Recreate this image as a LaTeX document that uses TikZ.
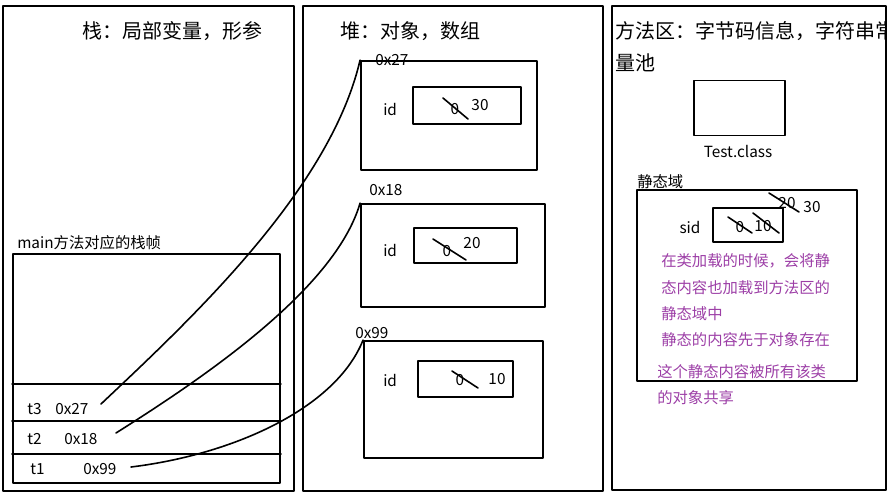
\documentclass[tikz,border=0pt]{standalone}
\usepackage{fontspec}
\setmainfont{Noto Sans CJK SC}
\usetikzlibrary{positioning}
\definecolor{notepurple}{RGB}{156,62,166}
\def\px{0.75pt}

\begin{document}
\begin{tikzpicture}[x=0.75pt, y=-0.75pt, line join=round, line cap=round]
\tikzset{
  panel/.style={line width=1.6pt, black},
  box/.style={draw, line width=1.4pt, inner sep=0pt},
  rowline/.style={line width=1.2pt},
  link/.style={line width=1.2pt},
  strike/.style={line width=1.2pt},
  head/.style={font=\fontsize{15}{18}\selectfont, inner sep=0pt, anchor=west},
  lbl/.style={font=\fontsize{11.5}{14}\selectfont, inner sep=0pt},
  note/.style={lbl, anchor=west, text=notepurple}
}
\useasboundingbox (0,0) rectangle (890,494);

% The three memory areas
\draw[panel] (3,6) rectangle (294,491);
\draw[panel] (303,6) rectangle (603,491);
\draw[panel] (612,6) rectangle (886,490);

\node[head] (stackhead) at (82,31) {栈：局部变量，形参};
\node[head] (heaphead) at (340,31) {堆：对象，数组};
\begin{scope}
\clip (612,6) rectangle (886,490);
\node[head] (methodhead) at (615,31) {方法区：字节码信息，字符串常};
\end{scope}
\node[head] (methodhead2) at (615,63) {量池};

% Stack frame of main
\node[lbl, anchor=west] (framelbl) at (17,243) {main方法对应的栈帧};
\node[box, minimum width=267*\px, minimum height=229*\px] (frame) at (146.5,368.5) {};
\draw[rowline] (frame.west |- 0,384) -- (frame.east |- 0,384);
\draw[box] (frame.west |- 0,421) -- (frame.east |- 0,421);
\draw[box] (frame.west |- 0,454) -- (frame.east |- 0,454);

\node[lbl, anchor=west] (t3) at (27,409) {t3};
\node[lbl, anchor=west] (t3addr) at (55,409) {0x27};
\node[lbl, anchor=west] (t2) at (27,439) {t2};
\node[lbl, anchor=west] (t2addr) at (64,439) {0x18};
\node[lbl, anchor=west] (t1) at (30,469) {t1};
\node[lbl, anchor=west] (t1addr) at (83,469) {0x99};

% Objects on the heap
\node[box, minimum width=176*\px, minimum height=109*\px] (obj1) at (449,115.5) {};
\node[lbl, anchor=west] (obj1addr) at (375,60) {0x27};
\node[lbl, anchor=west] (obj1id) at (383,109) {id};
\node[box, minimum width=108*\px, minimum height=37*\px] (obj1val) at (467,105.5) {};
\node[lbl] (obj1old) at (455,109) {0};
\node[lbl] (obj1new) at (480,105) {30};
\draw[strike] (443,98) -- (468,119);

\node[box, minimum width=184*\px, minimum height=103*\px] (obj2) at (453,255.5) {};
\node[lbl, anchor=west] (obj2addr) at (369,190) {0x18};
\node[lbl, anchor=west] (obj2id) at (383,250) {id};
\node[box, minimum width=103*\px, minimum height=35*\px] (obj2val) at (465.5,245.5) {};
\node[lbl] (obj2old) at (447,251) {0};
\node[lbl] (obj2new) at (472,243) {20};
\draw[strike] (433,239) -- (466,260);

\node[box, minimum width=179*\px, minimum height=117*\px] (obj3) at (453.5,399.5) {};
\node[lbl, anchor=west] (obj3addr) at (355,333) {0x99};
\node[lbl, anchor=west] (obj3id) at (383,380) {id};
\node[box, minimum width=95*\px, minimum height=36*\px] (obj3val) at (465.5,379) {};
\node[lbl] (obj3old) at (460,380) {0};
\node[lbl] (obj3new) at (497,379) {10};
\draw[strike] (452,371) -- (478,388);

% References from the stack to the heap
\coordinate (t3src) at (101,404);
\coordinate (t2src) at (116,433);
\coordinate (t1src) at (131,467);
\draw[link] (t3src) .. controls (190,320) and (330,190) .. (obj1.north west);
\draw[link] (t2src) .. controls (200,380) and (335,290) .. (obj2.north west);
\draw[link] (t1src) .. controls (230,455) and (335,410) .. (obj3.north west);

% Method area: class and static field
\node[box, minimum width=91*\px, minimum height=55*\px] (testcls) at (739.5,108) {};
\node[lbl] (testlbl) at (738,151) {Test.class};

\node[lbl, anchor=west] (staticlbl) at (637,182) {静态域};
\node[box, minimum width=220*\px, minimum height=191*\px] (static) at (747,285.5) {};
\node[lbl] (sid) at (690,227) {sid};
\node[box, minimum width=70*\px, minimum height=34*\px] (sidval) at (748,225) {};
\node[lbl] (sid0) at (740,227) {0};
\node[lbl] (sid10) at (763,226) {10};
\node[lbl] (sid20) at (787,203) {20};
\node[lbl] (sid30) at (812,207) {30};
\draw[strike] (728,217) -- (752,233);
\draw[strike] (753,213) -- (779,233);
\draw[strike] (769,193) -- (799,212);

% Notes
\node[note] (note1) at (661,261) {在类加载的时候，会将静};
\node[note] (note2) at (661,288) {态内容也加载到方法区的};
\node[note] (note3) at (661,314) {静态域中};
\node[note] (note4) at (661,340) {静态的内容先于对象存在};
\node[note] (note5) at (657,372) {这个静态内容被所有该类};
\node[note] (note6) at (657,398) {的对象共享};
\end{tikzpicture}
\end{document}
